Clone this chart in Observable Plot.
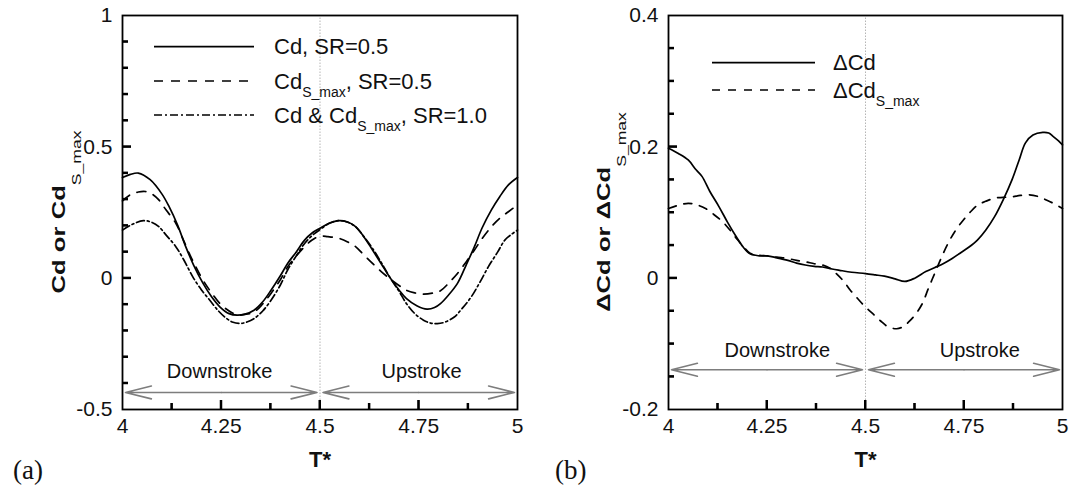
<!DOCTYPE html>
<html><head><meta charset="utf-8">
<script src="https://cdn.jsdelivr.net/npm/d3@7"></script>
<script src="https://cdn.jsdelivr.net/npm/@observablehq/plot@0.6"></script>
<style>
body{margin:0;background:#fff;overflow:hidden;}
#wrap{position:relative;width:1069px;height:495px;}
#wrap svg{position:absolute;top:0;overflow:visible;}
</style></head><body><div id="wrap"></div>
<script>
// ---------- ticks ----------
const xMajorTicks = [4, 4.25, 4.5, 4.75, 5];
const xMinorTicks = [4.125, 4.375, 4.625, 4.875];
const yMajorA = [-0.5, 0, 0.5, 1];
const yMinorA = [-0.4, -0.3, -0.2, -0.1, 0.1, 0.2, 0.3, 0.4, 0.6, 0.7, 0.8, 0.9];
const yMajorB = [-0.2, 0, 0.2, 0.4];
const yMinorB = [-0.15, -0.1, -0.05, 0.05, 0.1, 0.15, 0.25, 0.3, 0.35];

// ---------- panel (a) series: [T*, value] ----------
const cdSR05 = [[4.00,0.383],[4.02,0.395],[4.04,0.400],[4.07,0.375],[4.10,0.320],[4.118,0.272],[4.14,0.200],[4.16,0.120],[4.18,0.050],[4.204,-0.020],[4.225,-0.070],[4.247,-0.110],[4.27,-0.135],[4.29,-0.141],[4.31,-0.137],[4.333,-0.122],[4.355,-0.090],[4.376,-0.046],[4.40,0.010],[4.418,0.056],[4.44,0.100],[4.461,0.145],[4.48,0.172],[4.50,0.190],[4.525,0.210],[4.547,0.219],[4.57,0.214],[4.59,0.196],[4.61,0.160],[4.633,0.107],[4.655,0.055],[4.676,0.005],[4.70,-0.045],[4.719,-0.078],[4.745,-0.105],[4.771,-0.118],[4.79,-0.112],[4.805,-0.097],[4.825,-0.065],[4.848,-0.020],[4.87,0.050],[4.891,0.120],[4.91,0.190],[4.934,0.260],[4.955,0.310],[4.977,0.355],[5.00,0.383]];
const cdSmaxSR05 = [[4.00,0.294],[4.019,0.317],[4.04,0.328],[4.058,0.330],[4.075,0.320],[4.092,0.298],[4.11,0.260],[4.135,0.209],[4.15,0.160],[4.169,0.094],[4.185,0.045],[4.204,-0.008],[4.225,-0.055],[4.247,-0.097],[4.27,-0.125],[4.29,-0.140],[4.31,-0.138],[4.333,-0.129],[4.355,-0.098],[4.376,-0.058],[4.40,-0.005],[4.418,0.043],[4.44,0.085],[4.461,0.120],[4.48,0.145],[4.50,0.160],[4.52,0.158],[4.547,0.152],[4.57,0.138],[4.59,0.120],[4.61,0.090],[4.633,0.056],[4.655,0.025],[4.676,-0.001],[4.70,-0.028],[4.719,-0.046],[4.74,-0.056],[4.762,-0.061],[4.785,-0.057],[4.805,-0.048],[4.825,-0.020],[4.848,0.018],[4.87,0.062],[4.891,0.107],[4.91,0.150],[4.934,0.196],[4.955,0.228],[4.977,0.253],[5.00,0.279]];
const cdSR10 = [[4.00,0.183],[4.025,0.205],[4.053,0.219],[4.075,0.212],[4.092,0.196],[4.11,0.165],[4.135,0.120],[4.155,0.070],[4.178,0.005],[4.20,-0.045],[4.221,-0.084],[4.243,-0.125],[4.264,-0.154],[4.28,-0.168],[4.30,-0.172],[4.315,-0.167],[4.333,-0.154],[4.355,-0.125],[4.376,-0.084],[4.40,-0.025],[4.418,0.031],[4.44,0.085],[4.461,0.132],[4.48,0.162],[4.50,0.185],[4.525,0.210],[4.547,0.219],[4.57,0.213],[4.59,0.196],[4.61,0.160],[4.633,0.113],[4.655,0.060],[4.676,0.005],[4.70,-0.050],[4.719,-0.097],[4.74,-0.135],[4.762,-0.160],[4.78,-0.171],[4.797,-0.173],[4.815,-0.168],[4.84,-0.148],[4.86,-0.115],[4.883,-0.071],[4.905,-0.015],[4.926,0.043],[4.95,0.100],[4.968,0.145],[4.985,0.167],[5.00,0.183]];

// ---------- panel (b) series ----------
const dCd = [[4.00,0.198],[4.025,0.190],[4.05,0.180],[4.07,0.165],[4.085,0.155],[4.105,0.132],[4.128,0.109],[4.15,0.085],[4.172,0.063],[4.19,0.047],[4.207,0.037],[4.23,0.034],[4.251,0.034],[4.275,0.031],[4.303,0.027],[4.325,0.023],[4.347,0.020],[4.37,0.018],[4.391,0.017],[4.415,0.014],[4.434,0.012],[4.465,0.009],[4.50,0.007],[4.525,0.005],[4.548,0.003],[4.575,-0.001],[4.60,-0.005],[4.625,0.000],[4.653,0.010],[4.675,0.016],[4.697,0.022],[4.72,0.030],[4.74,0.038],[4.762,0.047],[4.784,0.058],[4.805,0.073],[4.828,0.094],[4.85,0.120],[4.872,0.150],[4.89,0.180],[4.906,0.206],[4.925,0.218],[4.95,0.222],[4.965,0.221],[4.976,0.216],[4.99,0.209],[5.00,0.203]];
const dCdSmax = [[4.00,0.106],[4.025,0.111],[4.05,0.114],[4.07,0.112],[4.094,0.106],[4.115,0.097],[4.137,0.086],[4.155,0.074],[4.172,0.061],[4.19,0.048],[4.207,0.038],[4.23,0.035],[4.251,0.034],[4.275,0.032],[4.303,0.030],[4.325,0.027],[4.347,0.025],[4.37,0.022],[4.391,0.020],[4.41,0.015],[4.426,0.007],[4.445,-0.005],[4.461,-0.018],[4.48,-0.031],[4.50,-0.044],[4.522,-0.056],[4.54,-0.066],[4.557,-0.074],[4.579,-0.077],[4.595,-0.074],[4.609,-0.067],[4.627,-0.055],[4.644,-0.039],[4.66,-0.015],[4.679,0.012],[4.696,0.036],[4.714,0.058],[4.73,0.074],[4.749,0.089],[4.765,0.100],[4.784,0.111],[4.805,0.117],[4.828,0.122],[4.85,0.123],[4.872,0.124],[4.893,0.126],[4.915,0.127],[4.94,0.124],[4.959,0.119],[4.98,0.113],[5.00,0.106]];

// ---------- annotations ----------
const phaseNames = ["Downstroke", "Upstroke"];
const phaseStart = [4, 4.5];
const phaseEnd = [4.5, 5];
const phaseLabelXA = [4.246, 4.757];
const phaseLabelXB = [4.276, 4.79];
const legendA = [
  [["Cd, SR=0.5", 0]],
  [["Cd", 0], ["S_max", 1], [", SR=0.5", 0]],
  [["Cd & Cd", 0], ["S_max", 1], [", SR=1.0", 0]]
];
const legendB = [
  [["ΔCd", 0]],
  [["ΔCd", 0], ["S_max", 1]]
];
const yLabelA = [["Cd or Cd", 0], ["S_max", 1]];
const yLabelB = [["ΔCd or ΔCd", 0], ["S_max", 1]];
const xLabel = "T*";

const SOLID = null, DASH = "9,8", DASHDOT = "8,3,2,3", DASHB = "8,8";
const FONT = "'Liberation Sans', Arial, Helvetica, sans-serif";
const toRows = s => s.map(([t, v]) => ({t, v}));

function makePanel(cfg) {
  const phases = phaseNames.map((name, i) => ({
    name, start: phaseStart[i], end: phaseEnd[i],
    mid: (phaseStart[i] + phaseEnd[i]) / 2, y: cfg.arrowY,
    lx: cfg.labelX[i], ly: cfg.labelY
  }));
  const arrowOpts = {y1: "y", y2: "y", stroke: "#7d7d7d", strokeWidth: 1.6, headAngle: 28, headLength: 25, insetEnd: 3};
  const svg = Plot.plot({
    width: cfg.width, height: 495,
    marginLeft: cfg.mL, marginRight: cfg.mR, marginTop: 15, marginBottom: 86,
    style: {fontFamily: FONT, fontSize: "21px", background: "transparent"},
    x: {domain: [4, 5], label: null},
    y: {domain: cfg.yDomain, label: null},
    marks: [
      Plot.ruleX([phaseStart[1]], {y1: cfg.dividerY1, y2: cfg.yDomain[1], stroke: "#b5b5b5", strokeWidth: 1, strokeDasharray: "1.5,1.5"}),
      ...cfg.series.map(s => Plot.line(toRows(s.data), {x: "t", y: "v", curve: "catmull-rom", stroke: "#000", strokeWidth: 1.7, strokeDasharray: s.dash})),
      Plot.arrow(phases, {x1: "mid", x2: "end", ...arrowOpts}),
      Plot.arrow(phases, {x1: "mid", x2: "start", ...arrowOpts}),
      Plot.text(phases, {x: "lx", y: "ly", text: "name", fontSize: 20, fill: "#111"}),
      // inward tick marks, drawn by Plot's axis marks and shifted inside the frame
      Plot.axisX(xMinorTicks, {tickSize: 6, dy: -6, tickFormat: () => "", stroke: "#000", strokeWidth: 2, label: null}),
      Plot.axisX(xMajorTicks.slice(1, -1), {tickSize: 9, dy: -9, tickFormat: () => "", stroke: "#000", strokeWidth: 2, label: null}),
      Plot.axisY(cfg.yMinor, {tickSize: 6, dx: 6, tickFormat: () => "", stroke: "#000", strokeWidth: 2, label: null}),
      Plot.axisY(cfg.yMajor.slice(1, -1), {tickSize: 9, dx: 9, tickFormat: () => "", stroke: "#000", strokeWidth: 2, label: null}),
      // tick labels
      Plot.axisX(xMajorTicks, {tickSize: 0, tickPadding: 9, tickFormat: d => String(d), fontSize: 21, fill: "#111", label: null}),
      Plot.axisY(cfg.yMajor, {tickSize: 0, tickPadding: 10, tickFormat: d => String(d), fontSize: 21, fill: "#111", label: null}),
      Plot.text([xLabel], {frameAnchor: "bottom", dy: 50, text: d => d, fontSize: 22, fontWeight: "bold", lineAnchor: "middle", fill: "#111"}),
      Plot.frame({stroke: "#000", strokeWidth: 1.8})
    ]
  });
  const g = d3.select(svg);
  // backup inward ticks as filled slivers, placed with the plot's own scales
  const sx = svg.scale("x"), sy = svg.scale("y");
  const yb = sy.range[0], xl = sx.range[0];
  const tickSets = [
    {vals: xMinorTicks, len: 6, w: 2, axis: "x"},
    {vals: xMajorTicks.slice(1, -1), len: 9, w: 2, axis: "x"},
    {vals: cfg.yMinor, len: 6, w: 2, axis: "y"},
    {vals: cfg.yMajor.slice(1, -1), len: 9, w: 2, axis: "y"}
  ];
  const tg = g.append("g").attr("fill", "#000").attr("stroke", "none");
  tickSets.forEach(({vals, len, w, axis}) => {
    vals.forEach(v => {
      if (axis === "x") {
        const px = sx.apply(v);
        tg.append("rect").attr("x", px - w / 2).attr("y", yb - len).attr("width", w).attr("height", len);
      } else {
        const py = sy.apply(v);
        tg.append("rect").attr("x", xl).attr("y", py - w / 2).attr("width", len).attr("height", w);
      }
    });
  });
  // y label (stretched along its length like the original)
  const yl = g.append("text")
    .attr("transform", `translate(${cfg.yLabelX},212) rotate(-90) scale(1.35,1)`)
    .attr("text-anchor", "middle").attr("font-family", FONT).attr("fill", "#111");
  addParts(yl, cfg.yLabel, 19, "bold", 13, 16);
  // legend
  cfg.legend.forEach((parts, i) => {
    const ly = cfg.legendY[i];
    g.append("line").attr("x1", cfg.legX1).attr("x2", cfg.legX2).attr("y1", ly).attr("y2", ly)
      .attr("stroke", "#000").attr("stroke-width", 1.7).attr("stroke-dasharray", cfg.series[i].dash);
    const t = g.append("text").attr("x", cfg.legTextX).attr("y", ly + 7.5)
      .attr("text-anchor", "start").attr("font-family", FONT).attr("fill", "#111");
    addParts(t, parts, 22, "normal", 14, 8);
  });
  // panel tag
  g.append("text").attr("x", cfg.tagX).attr("y", 479).text(cfg.tag).attr("text-anchor", "start")
    .attr("font-family", "'Liberation Serif','Times New Roman',serif").attr("font-size", 27).attr("fill", "#111");
  svg.style.left = cfg.left + "px";
  document.getElementById("wrap").appendChild(svg);
}

function addParts(textSel, parts, size, weight, subSize, shift) {
  let down = 0;
  parts.forEach(([s, sub]) => {
    const ts = textSel.append("tspan").text(s);
    if (sub) { ts.attr("font-size", subSize).attr("font-weight", "normal").attr("dy", shift - down); down = shift; }
    else { ts.attr("font-size", size).attr("font-weight", weight).attr("dy", -down); down = 0; }
  });
}

makePanel({
  left: 0, width: 530, mL: 122, mR: 13,
  yDomain: [-0.5, 1], yMajor: yMajorA, yMinor: yMinorA,
  series: [{data: cdSR05, dash: SOLID}, {data: cdSmaxSR05, dash: DASH}, {data: cdSR10, dash: DASHDOT}],
  arrowY: -0.435, labelX: phaseLabelXA, labelY: -0.357, dividerY1: -0.5,
  yLabel: yLabelA, yLabelX: 65,
  legend: legendA, legendY: [46.7, 81, 115], legX1: 154, legX2: 254, legTextX: 274,
  tag: "(a)", tagX: 13
});
makePanel({
  left: 540, width: 529, mL: 128, mR: 7,
  yDomain: [-0.2, 0.4], yMajor: yMajorB, yMinor: yMinorB,
  series: [{data: dCd, dash: SOLID}, {data: dCdSmax, dash: DASHB}],
  arrowY: -0.1395, labelX: phaseLabelXB, labelY: -0.111, dividerY1: -0.2,
  yLabel: yLabelB, yLabelX: 70,
  legend: legendB, legendY: [62.7, 90], legX1: 172, legX2: 275, legTextX: 293,
  tag: "(b)", tagX: 15
});
</script>
</body></html>
